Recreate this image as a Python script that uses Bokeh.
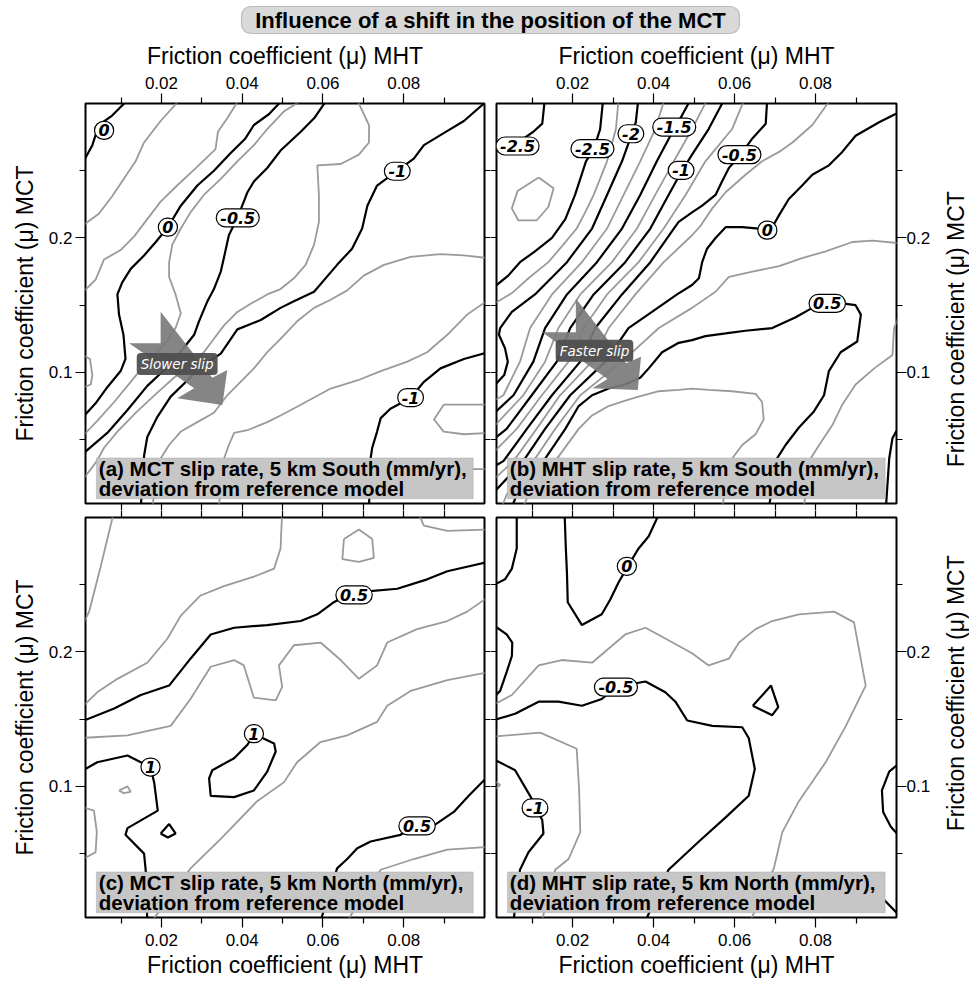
from bokeh.plotting import figure
from bokeh.models import Range1d, LinearAxis, FixedTicker, Label, BoxAnnotation
from bokeh.layouts import column, row
from bokeh.embed import file_html
from bokeh.resources import INLINE
from bokeh.core.properties import value

# ---------------- texts ----------------
TITLE = "Influence of a shift in the position of the MCT"
X_LABEL = "Friction coefficient (\u03bc) MHT"
Y_LABEL = "Friction coefficient (\u03bc) MCT"
A_TAG = ["(a) MCT slip rate, 5 km South (mm/yr),", "deviation from reference model"]
B_TAG = ["(b) MHT slip rate, 5 km South (mm/yr),", "deviation from reference model"]
C_TAG = ["(c) MCT slip rate, 5 km North (mm/yr),", "deviation from reference model"]
D_TAG = ["(d) MHT slip rate, 5 km North (mm/yr),", "deviation from reference model"]

# ---------------- axes ----------------
X_RANGE = (0.0012, 0.1)
Y_RANGE = (0.0025, 0.3)
X_MAJOR = [0.02, 0.04, 0.06, 0.08]
X_MINOR = [0.01, 0.03, 0.05, 0.07, 0.09]
Y_MAJOR = [0.1, 0.2]
Y_MINOR = [0.05, 0.15, 0.25]

# ---------------- contour lines: (level, x, y) ----------------
A_LINES = [
    (0, [0.0124, 0.0078, 0.0045, 0.0029, 0.0], [0.305, 0.291, 0.284, 0.269, 0.253]),
    (0.25, [0.0, 0.0045, 0.0078, 0.0107, 0.0136, 0.0157, 0.0198, 0.0252],
     [0.208, 0.218, 0.231, 0.244, 0.257, 0.271, 0.287, 0.305]),
    (0.25, [0.0, 0.0037, 0.0058, 0.0099, 0.0132, 0.0165, 0.0198, 0.0239, 0.0289, 0.0334, 0.034, 0.0363, 0.0396],
     [0.158, 0.169, 0.184, 0.191, 0.201, 0.214, 0.227, 0.239, 0.253, 0.266, 0.279, 0.289, 0.305]),
    (0, [0.0507, 0.0466, 0.0429, 0.0408, 0.0371, 0.033, 0.0289, 0.0248, 0.0216, 0.0186, 0.0157, 0.0124, 0.0103,
         0.0091, 0.0095, 0.0106, 0.0111, 0.0099, 0.0066, 0.0037, 0.0],
     [0.305, 0.292, 0.284, 0.274, 0.263, 0.25, 0.239, 0.224, 0.208, 0.197, 0.187, 0.177, 0.167,
      0.158, 0.143, 0.128, 0.11, 0.101, 0.089, 0.077, 0.065]),
    (-0.25, [0.0561, 0.0503, 0.0462, 0.0429, 0.0388, 0.0347, 0.0305, 0.0272, 0.0248, 0.0227, 0.0219, 0.0219,
             0.0235, 0.0248, 0.0235, 0.0206, 0.0165, 0.0124, 0.0083, 0.0041, 0.0],
     [0.305, 0.294, 0.281, 0.269, 0.257, 0.244, 0.232, 0.219, 0.207, 0.195, 0.182, 0.171,
      0.158, 0.144, 0.133, 0.12, 0.108, 0.093, 0.078, 0.064, 0.051]),
    (-0.5, [0.0615, 0.0578, 0.0545, 0.0495, 0.0462, 0.0429, 0.0413, 0.0404, 0.0388, 0.0367, 0.0356, 0.0347,
            0.033, 0.0314, 0.0293, 0.0281, 0.0252, 0.0215, 0.0165, 0.0116, 0.0066, 0.0],
     [0.305, 0.289, 0.279, 0.265, 0.252, 0.242, 0.234, 0.227, 0.215, 0.202, 0.187, 0.175,
      0.162, 0.153, 0.138, 0.128, 0.117, 0.104, 0.09, 0.072, 0.055, 0.038]),
    (-0.75, [0.0681, 0.0714, 0.0714, 0.0689, 0.0644, 0.0586, 0.059, 0.059, 0.0578, 0.0557, 0.0528, 0.0495,
             0.0462, 0.0421, 0.0388, 0.0355, 0.033, 0.0305, 0.0272, 0.0231, 0.019, 0.014, 0.0091, 0.0058,
             0.004, 0.0],
     [0.305, 0.284, 0.271, 0.262, 0.255, 0.254, 0.232, 0.212, 0.195, 0.18, 0.17, 0.162,
      0.158, 0.151, 0.145, 0.135, 0.125, 0.115, 0.106, 0.096, 0.085, 0.071, 0.056, 0.044,
      0.034, 0.018]),
    (-1, [0.101, 0.0949, 0.0899, 0.085, 0.0825, 0.0784, 0.0734, 0.071, 0.0697, 0.0672, 0.0635, 0.0578,
          0.0528, 0.0495, 0.0446, 0.0388, 0.0347, 0.0297, 0.0264, 0.0223, 0.019, 0.0165, 0.0157, 0.0149],
     [0.303, 0.287, 0.278, 0.269, 0.259, 0.25, 0.239, 0.224, 0.207, 0.192, 0.18, 0.16,
      0.153, 0.148, 0.139, 0.132, 0.114, 0.104, 0.094, 0.082, 0.067, 0.052, 0.038, 0.0]),
    (-1.25, [0.101, 0.0949, 0.0891, 0.0817, 0.0751, 0.0701, 0.066, 0.0619, 0.0578, 0.0536, 0.0495, 0.0462,
             0.0429, 0.0396, 0.0363, 0.033, 0.0289, 0.0248, 0.0219, 0.0198, 0.0177],
     [0.185, 0.187, 0.188, 0.186, 0.18, 0.172, 0.161, 0.154, 0.148, 0.138, 0.125, 0.115,
      0.103, 0.093, 0.083, 0.07, 0.063, 0.056, 0.046, 0.036, 0.0]),
    (-1.25, [0.101, 0.0957, 0.0908, 0.0858, 0.0809, 0.0743, 0.0685, 0.0619, 0.0545, 0.0495, 0.0462, 0.0413,
             0.038, 0.0367, 0.0355, 0.0342],
     [0.154, 0.143, 0.128, 0.115, 0.108, 0.101, 0.094, 0.088, 0.076, 0.068, 0.063, 0.057,
      0.055, 0.046, 0.036, 0.0]),
    (-1, [0.101, 0.0949, 0.0891, 0.085, 0.0817, 0.0767, 0.0743, 0.0734, 0.0722, 0.0718, 0.0714],
     [0.115, 0.11, 0.103, 0.093, 0.081, 0.073, 0.066, 0.056, 0.044, 0.036, 0.0]),
    (-1.25, [0.101, 0.0899, 0.0875, 0.0899, 0.0949, 0.101], [0.076, 0.076, 0.065, 0.056, 0.054, 0.055]),
    (-1.25, [0.101, 0.0969, 0.0924], [0.028, 0.028, 0.024]),
    (0.25, [0.0, 0.0023, 0.0029, 0.0025, 0.0], [0.114, 0.11, 0.098, 0.091, 0.088]),
]

B_LINES = [
    (-2.5, [0.0132, 0.0125, 0.0103, 0.0074, 0.0045, 0.0], [0.305, 0.285, 0.279, 0.273, 0.269, 0.266]),
    (-2.75, [0.0116, 0.0153, 0.014, 0.0111, 0.0066, 0.005, 0.0064, 0.0116],
     [0.245, 0.237, 0.223, 0.213, 0.213, 0.222, 0.235, 0.245]),
    (-2.5, [0.0276, 0.0268, 0.0252, 0.0233, 0.0206, 0.0182, 0.0149, 0.0107, 0.007, 0.0041, 0.0],
     [0.305, 0.281, 0.266, 0.257, 0.232, 0.214, 0.2, 0.19, 0.182, 0.172, 0.162]),
    (-2.25, [0.0314, 0.0307, 0.0285, 0.0252, 0.0231, 0.021, 0.0177, 0.014, 0.0091, 0.005, 0.0],
     [0.305, 0.281, 0.257, 0.232, 0.219, 0.207, 0.195, 0.182, 0.17, 0.159, 0.15]),
    (-2, [0.0363, 0.0356, 0.0347, 0.0322, 0.0285, 0.0248, 0.0186, 0.0107, 0.005, 0.0021, 0.0018, 0.0033,
          0.004, 0.0031, 0.0],
     [0.305, 0.286, 0.278, 0.257, 0.232, 0.207, 0.182, 0.158, 0.145, 0.133, 0.128, 0.118,
      0.108, 0.098, 0.088]),
    (-1.75, [0.0429, 0.0404, 0.0367, 0.0326, 0.0285, 0.0223, 0.0149, 0.0095, 0.007, 0.0029, 0.0],
     [0.305, 0.281, 0.257, 0.232, 0.207, 0.182, 0.158, 0.133, 0.108, 0.083, 0.078]),
    (-1.5, [0.0495, 0.047, 0.0454, 0.0408, 0.0367, 0.0322, 0.026, 0.0186, 0.0132, 0.0103, 0.0054, 0.0],
     [0.305, 0.291, 0.283, 0.257, 0.232, 0.207, 0.182, 0.158, 0.133, 0.108, 0.083, 0.068]),
    (-1.25, [0.0536, 0.0495, 0.045, 0.0404, 0.0359, 0.0297, 0.0219, 0.0165, 0.0132, 0.0078, 0.0],
     [0.305, 0.281, 0.257, 0.232, 0.207, 0.182, 0.158, 0.133, 0.108, 0.083, 0.058]),
    (-1, [0.0578, 0.0536, 0.0495, 0.047, 0.0437, 0.0392, 0.033, 0.0252, 0.0194, 0.0161, 0.0099, 0.0037, 0.0],
     [0.305, 0.281, 0.262, 0.25, 0.232, 0.207, 0.182, 0.158, 0.133, 0.108, 0.083, 0.058, 0.049]),
    (-0.75, [0.0627, 0.0594, 0.0528, 0.0479, 0.0425, 0.0363, 0.0285, 0.0227, 0.019, 0.0124, 0.0062, 0.0],
     [0.305, 0.281, 0.257, 0.232, 0.207, 0.182, 0.158, 0.133, 0.108, 0.083, 0.058, 0.039]),
    (-0.5, [0.0681, 0.0677, 0.0644, 0.0615, 0.0586, 0.0569, 0.0553, 0.052, 0.0495, 0.0462, 0.045, 0.0392,
            0.0322, 0.0256, 0.0219, 0.0149, 0.0087, 0.0029, 0.0],
     [0.305, 0.285, 0.274, 0.262, 0.252, 0.242, 0.232, 0.224, 0.219, 0.212, 0.207, 0.182,
      0.158, 0.133, 0.108, 0.083, 0.058, 0.034, 0.029]),
    (-0.25, [0.0842, 0.0792, 0.0743, 0.071, 0.0668, 0.0627, 0.0578, 0.0545, 0.0516, 0.0495, 0.0425, 0.0355,
             0.0289, 0.0248, 0.0169, 0.0111, 0.0054, 0.0],
     [0.305, 0.284, 0.271, 0.264, 0.257, 0.247, 0.234, 0.222, 0.209, 0.202, 0.182, 0.158,
      0.133, 0.108, 0.083, 0.058, 0.034, 0.019]),
    (0, [0.101, 0.0957, 0.0899, 0.0866, 0.0833, 0.0792, 0.0767, 0.0734, 0.071, 0.0693, 0.0683, 0.066, 0.0619,
         0.0578, 0.0553, 0.0532, 0.052, 0.0512, 0.0495, 0.0458, 0.0396, 0.0338, 0.0281, 0.0194, 0.0132,
         0.0078, 0.0],
     [0.294, 0.286, 0.276, 0.264, 0.254, 0.247, 0.239, 0.229, 0.217, 0.208, 0.206, 0.207, 0.208,
      0.208, 0.2, 0.192, 0.182, 0.17, 0.165, 0.158, 0.145, 0.133, 0.108, 0.083, 0.058,
      0.034, 0.009]),
    (0.25, [0.101, 0.0941, 0.0891, 0.0825, 0.0767, 0.071, 0.0644, 0.0586, 0.0553, 0.0495, 0.0413, 0.0322,
            0.0219, 0.0157, 0.0103, 0.0037, 0.0025],
     [0.196, 0.198, 0.197, 0.19, 0.185, 0.179, 0.175, 0.171, 0.16, 0.148, 0.133, 0.108,
      0.083, 0.058, 0.034, 0.009, 0.0]),
    (0.5, [0.0685, 0.0705, 0.0726, 0.0759, 0.0796, 0.0821, 0.0833, 0.0862, 0.0903, 0.0912, 0.0899, 0.0875,
           0.0832, 0.0792, 0.0751, 0.0693, 0.0627, 0.0578, 0.0528, 0.0495, 0.0462, 0.0421, 0.0388, 0.0367,
           0.033, 0.0289, 0.0248, 0.0215, 0.0182, 0.0128, 0.0062, 0.005],
     [0.0, 0.036, 0.046, 0.059, 0.071, 0.083, 0.101, 0.115, 0.123, 0.143, 0.15, 0.151,
      0.151, 0.148, 0.141, 0.133, 0.131, 0.129, 0.127, 0.124, 0.122, 0.115, 0.103, 0.096,
      0.091, 0.088, 0.083, 0.075, 0.058, 0.034, 0.009, 0.0]),
    (0.75, [0.0078, 0.0091, 0.0157, 0.0215, 0.0248, 0.0289, 0.033, 0.0363, 0.0413, 0.0462, 0.0495, 0.0536,
            0.0594, 0.0652, 0.0668, 0.0672, 0.0652, 0.0619, 0.0594, 0.0569],
     [0.0, 0.009, 0.034, 0.058, 0.068, 0.075, 0.079, 0.082, 0.086, 0.087, 0.088, 0.087,
      0.086, 0.084, 0.078, 0.065, 0.054, 0.046, 0.036, 0.0]),
    (0.75, [0.101, 0.0994, 0.099, 0.0945, 0.0899, 0.0866, 0.0842, 0.0809, 0.0788, 0.0771],
     [0.145, 0.133, 0.113, 0.103, 0.091, 0.076, 0.061, 0.046, 0.036, 0.0]),
    (1, [0.101, 0.099, 0.0982, 0.0974], [0.062, 0.051, 0.036, 0.0]),
]

C_LINES = [
    (0.25, [0.0083, 0.0062, 0.005, 0.0033, 0.0021, 0.0], [0.305, 0.279, 0.264, 0.244, 0.23, 0.217]),
    (0.25, [0.0, 0.0041, 0.0091, 0.0165, 0.0215, 0.0248, 0.0297, 0.0355, 0.0429, 0.0479, 0.0495, 0.0499],
     [0.158, 0.17, 0.18, 0.192, 0.21, 0.227, 0.242, 0.249, 0.256, 0.262, 0.277, 0.305]),
    (0.25, [0.0652, 0.0689, 0.0722, 0.0726, 0.0689, 0.0648, 0.0652],
     [0.284, 0.291, 0.284, 0.27, 0.267, 0.269, 0.284]),
    (0.25, [0.0833, 0.085, 0.0908, 0.101], [0.305, 0.294, 0.29, 0.291]),
    (0.5, [0.0, 0.0083, 0.0149, 0.0219, 0.0272, 0.0322, 0.038, 0.0462, 0.0545, 0.0586, 0.0627, 0.0652,
           0.0677, 0.071, 0.0784, 0.0858, 0.0908, 0.101],
     [0.148, 0.158, 0.168, 0.175, 0.195, 0.213, 0.218, 0.22, 0.223, 0.228, 0.237, 0.241,
      0.242, 0.245, 0.247, 0.254, 0.26, 0.267]),
    (0.75, [0.0, 0.0116, 0.0223, 0.0272, 0.0322, 0.038, 0.0404, 0.0429, 0.0483, 0.0499, 0.0491, 0.0528,
            0.0594, 0.0644, 0.0689, 0.0734, 0.0759, 0.0833, 0.0908, 0.0957, 0.101],
     [0.136, 0.138, 0.145, 0.165, 0.189, 0.194, 0.19, 0.166, 0.164, 0.174, 0.19, 0.205,
      0.207, 0.194, 0.18, 0.19, 0.207, 0.217, 0.223, 0.23, 0.241]),
    (0.75, [0.0177, 0.0272, 0.0347, 0.0437, 0.0503, 0.0536, 0.0594, 0.066, 0.0734, 0.0759, 0.0817, 0.0908,
            0.101],
     [0.0, 0.039, 0.061, 0.089, 0.103, 0.118, 0.133, 0.138, 0.148, 0.16, 0.171, 0.179, 0.185]),
    (1, [0.0429, 0.0479, 0.0483, 0.0462, 0.0429, 0.038, 0.0322, 0.0318, 0.0326, 0.038, 0.0413, 0.0429],
     [0.139, 0.132, 0.126, 0.111, 0.097, 0.092, 0.093, 0.106, 0.112, 0.121, 0.131, 0.139]),
    (1, [0.0, 0.0041, 0.0116, 0.0149, 0.0173, 0.0182, 0.0191, 0.0116, 0.0111, 0.0157, 0.0161, 0.0165],
     [0.111, 0.118, 0.123, 0.118, 0.114, 0.103, 0.082, 0.069, 0.064, 0.05, 0.038, 0.0]),
    (1, [0.0198, 0.0219, 0.0235, 0.0216, 0.0198], [0.065, 0.072, 0.065, 0.062, 0.065]),
    (1.25, [0.0095, 0.0116, 0.0124, 0.0107, 0.0095], [0.097, 0.1, 0.096, 0.095, 0.097]),
    (0.75, [0.0, 0.0033, 0.004, 0.0037, 0.0], [0.085, 0.082, 0.066, 0.051, 0.045]),
    (0.5, [0.0594, 0.0635, 0.066, 0.0685, 0.0718, 0.0792, 0.0833, 0.0875, 0.0924, 0.0961, 0.101],
     [0.0, 0.039, 0.046, 0.054, 0.059, 0.064, 0.071, 0.071, 0.081, 0.093, 0.108]),
    (0.25, [0.066, 0.0743, 0.0825, 0.0908, 0.101], [0.0, 0.038, 0.046, 0.053, 0.055]),
]

D_LINES = [
    (0, [0.0062, 0.0062, 0.005, 0.0033, 0.0], [0.305, 0.277, 0.262, 0.254, 0.249]),
    (0, [0.018, 0.0183, 0.0186, 0.0188, 0.0223, 0.0272, 0.0293, 0.0314, 0.0337, 0.0363, 0.0388, 0.0417],
     [0.305, 0.279, 0.259, 0.237, 0.22, 0.228, 0.239, 0.252, 0.264, 0.277, 0.286, 0.305]),
    (0, [0.0, 0.0037, 0.0051, 0.005, 0.0037, 0.0021, 0.0], [0.221, 0.213, 0.207, 0.197, 0.185, 0.171, 0.165]),
    (-0.25, [0.0, 0.005, 0.0116, 0.0173, 0.0248, 0.033, 0.038, 0.0429, 0.0495, 0.0536, 0.0586, 0.0611,
             0.0652, 0.0693, 0.0759, 0.0846, 0.0895, 0.0924, 0.0875, 0.0825, 0.0759, 0.0718, 0.0697, 0.0639],
     [0.16, 0.168, 0.19, 0.194, 0.192, 0.213, 0.218, 0.21, 0.199, 0.19, 0.195, 0.207,
      0.217, 0.223, 0.228, 0.23, 0.222, 0.175, 0.145, 0.118, 0.089, 0.066, 0.039, 0.0]),
    (-0.5, [0.0, 0.0058, 0.0116, 0.0165, 0.0223, 0.0272, 0.0309, 0.038, 0.0429, 0.0454, 0.0483, 0.0545,
            0.0619, 0.0635, 0.065, 0.0635, 0.0578, 0.0512, 0.0437, 0.038],
     [0.149, 0.154, 0.163, 0.163, 0.16, 0.165, 0.174, 0.178, 0.17, 0.163, 0.149, 0.145,
      0.144, 0.136, 0.113, 0.093, 0.077, 0.059, 0.038, 0.0]),
    (-0.5, [0.0645, 0.069, 0.0708, 0.0693, 0.0645], [0.16, 0.175, 0.159, 0.153, 0.16]),
    (-0.75, [0.0, 0.012, 0.021, 0.0216, 0.0219, 0.019, 0.0157, 0.0124],
     [0.137, 0.14, 0.128, 0.098, 0.066, 0.046, 0.038, 0.0]),
    (-1, [0.0, 0.0058, 0.0095, 0.011, 0.0125, 0.0128, 0.0091, 0.007, 0.0054],
     [0.121, 0.112, 0.093, 0.084, 0.075, 0.065, 0.051, 0.038, 0.0]),
    (0, [0.101, 0.0982, 0.0964, 0.0967, 0.0986, 0.101], [0.118, 0.111, 0.097, 0.081, 0.07, 0.062]),
    (0, [0.0965, 0.101], [0.017, 0.003]),
    (-0.75, [0.0, 0.0021, 0.0], [0.106, 0.101, 0.096]),
]

# ---------------- contour labels ----------------
A_LAB_X = [0.0058, 0.0216, 0.0389, 0.0784, 0.0817]
A_LAB_Y = [0.28, 0.208, 0.215, 0.2496, 0.0813]
A_LAB_T = ["0", "0", "-0.5", "-1", "-1"]

B_LAB_X = [0.0064, 0.0249, 0.0344, 0.0451, 0.0468, 0.0612, 0.0681, 0.0829]
B_LAB_Y = [0.2684, 0.2664, 0.2775, 0.2825, 0.2503, 0.262, 0.2058, 0.1513]
B_LAB_T = ["-2.5", "-2.5", "-2", "-1.5", "-1", "-0.5", "0", "0.5"]

C_LAB_X = [0.0677, 0.0429, 0.0173, 0.0833]
C_LAB_Y = [0.2424, 0.1392, 0.1144, 0.0706]
C_LAB_T = ["0.5", "1", "1", "0.5"]

D_LAB_X = [0.0334, 0.0307, 0.0107]
D_LAB_Y = [0.2637, 0.1738, 0.084]
D_LAB_T = ["0", "-0.5", "-1"]

# ---------------- arrows ----------------
ARROW_A_X = [0.0198, 0.0326, 0.0363, 0.0351, 0.0239, 0.0281, 0.012, 0.0198]
ARROW_A_Y = [0.1451, 0.0961, 0.1018, 0.0758, 0.0808, 0.0882, 0.1216, 0.1216]
SLIP_A = (0.0239, 0.1062, "Slower slip")

ARROW_B_X = [0.0208, 0.0332, 0.0369, 0.0361, 0.0249, 0.0286, 0.0125, 0.0208]
ARROW_B_Y = [0.155, 0.1068, 0.1117, 0.087, 0.0882, 0.0951, 0.1298, 0.1298]
SLIP_B = (0.0254, 0.1161, "Faster slip")

GRAY = "#9a9a9a"
FONT = "Liberation Sans"
STANDOFF = {"above": (5, 5), "below": (6, 3), "left": (3, 8), "right": (0, 0)}


def is_major(level):
    return abs(level * 2 - round(level * 2)) < 1e-9


def add_axis(p, side, labeled):
    is_x = side in ("above", "below")
    major = X_MAJOR if is_x else Y_MAJOR
    minor = X_MINOR if is_x else Y_MINOR
    if labeled:
        ax = LinearAxis(ticker=FixedTicker(ticks=major, minor_ticks=minor))
    else:
        ax = LinearAxis(ticker=FixedTicker(ticks=[], minor_ticks=sorted(major + minor)))
    ax.axis_line_color = None
    ax.major_tick_in = 0
    ax.minor_tick_in = 0
    ax.major_tick_line_color = "black"
    ax.minor_tick_line_color = "black"
    ax.major_tick_line_width = 1.2
    ax.minor_tick_line_width = 1.2
    if labeled:
        ax.major_tick_out = 10
        ax.minor_tick_out = 6
        ls, als = STANDOFF[side]
        ax.major_label_standoff = ls
        ax.major_label_text_font = FONT
        ax.major_label_text_font_size = "17px"
        ax.major_label_text_color = "black"
        if side != "right":
            ax.axis_label = X_LABEL if is_x else Y_LABEL
            ax.axis_label_standoff = als
            ax.axis_label_text_font = FONT
            ax.axis_label_text_font_size = "23px"
            ax.axis_label_text_font_style = "normal"
            ax.axis_label_text_color = "black"
    else:
        n = 7 if is_x else 6
        ax.major_tick_out = n
        ax.minor_tick_out = n
        ax.major_label_standoff = 0
    p.add_layout(ax, side)


def make_panel(width, height, borders, labeled_sides, lines, lab_x, lab_y, lab_t, tag,
               arrow=None, slip=None):
    bl, br, bt, bb = borders
    p = figure(width=width, height=height, output_backend="svg", toolbar_location=None,
               x_range=Range1d(*X_RANGE), y_range=Range1d(*Y_RANGE),
               x_axis_location=None, y_axis_location=None,
               min_border_left=bl, min_border_right=br, min_border_top=bt, min_border_bottom=bb)
    p.grid.visible = False
    p.outline_line_color = "black"
    p.outline_line_width = 2
    p.background_fill_color = "white"
    p.border_fill_color = "white"
    for side in ("above", "below", "left", "right"):
        add_axis(p, side, side in labeled_sides)

    minor = [l for l in lines if not is_major(l[0])]
    major = [l for l in lines if is_major(l[0])]
    p.multi_line([l[1] for l in minor], [l[2] for l in minor], line_color=GRAY, line_width=1.8)
    p.multi_line([l[1] for l in major], [l[2] for l in major], line_color="black", line_width=2.2)

    if arrow is not None:
        p.patch(arrow[0], arrow[1], fill_color="#7b7b7b", fill_alpha=0.92, line_color=None)
    if slip is not None:
        p.text(x=[slip[0]], y=[slip[1]], text=[slip[2]], text_align="center", text_baseline="middle",
               text_color="white", text_font=value("DejaVu Sans"), text_font_style="italic",
               text_font_size="13.5px", background_fill_color="#4f4f4f", background_fill_alpha=0.95,
               border_line_color=None, padding=(4, 3), border_radius=4)

    p.text(x=lab_x, y=lab_y, text=lab_t, text_align="center", text_baseline="middle",
           text_color="black", text_font=value("DejaVu Sans"), text_font_style="bold italic",
           text_font_size="16px", background_fill_color="white", border_line_color="black",
           border_line_width=1.2, padding=(4, 3), border_radius=10)

    p.add_layout(BoxAnnotation(left=0.0039, right=0.0972, bottom=0.006, top=0.0364,
                               fill_color="#c6c6c6", fill_alpha=1.0, line_color="#8c8c8c",
                               line_width=1))
    p.add_layout(Label(x=0.0045, y=0.0283, text=tag[0], text_baseline="middle",
                       text_font=FONT, text_font_style="bold", text_font_size="20.5px",
                       text_color="black"))
    p.add_layout(Label(x=0.0045, y=0.0134, text=tag[1], text_baseline="middle",
                       text_font=FONT, text_font_style="bold", text_font_size="20.5px",
                       text_color="black"))
    return p


def make_strip(height, center_from_bottom):
    s = figure(width=32, height=height, output_backend="svg", toolbar_location=None,
               x_range=Range1d(0, 32), y_range=Range1d(0, height),
               x_axis_location=None, y_axis_location=None, min_border=0)
    s.grid.visible = False
    s.outline_line_color = None
    s.add_layout(Label(x=18, y=center_from_bottom, text=Y_LABEL, angle=90, angle_units="deg",
                       text_align="center", text_baseline="middle", text_font=FONT,
                       text_font_size="23px", text_color="black"))
    return s


# title strip
t = figure(width=969, height=35, output_backend="svg", toolbar_location=None,
           x_range=Range1d(0, 969), y_range=Range1d(0, 35),
           x_axis_location=None, y_axis_location=None, min_border=0)
t.grid.visible = False
t.outline_line_color = None
t.add_layout(BoxAnnotation(left=241, right=739, bottom=2, top=29, fill_color="#d9d9d9", fill_alpha=1.0,
                           line_color="#4d4d4d", line_width=1.2, border_radius=9))
t.add_layout(Label(x=490, y=15.5, text=TITLE, text_align="center", text_baseline="middle",
                   text_font=FONT, text_font_style="bold", text_font_size="22px", text_color="black"))

fa = make_panel(490, 475, (85, 6, 68, 7), ("above", "left"), A_LINES, A_LAB_X, A_LAB_Y, A_LAB_T, A_TAG,
                arrow=(ARROW_A_X, ARROW_A_Y), slip=SLIP_A)
fb = make_panel(447, 475, (6, 41, 68, 7), ("above", "right"), B_LINES, B_LAB_X, B_LAB_Y, B_LAB_T, B_TAG,
                arrow=(ARROW_B_X, ARROW_B_Y), slip=SLIP_B)
fc = make_panel(490, 471, (85, 6, 7, 64), ("below", "left"), C_LINES, C_LAB_X, C_LAB_Y, C_LAB_T, C_TAG)
fd = make_panel(447, 471, (6, 41, 7, 64), ("below", "right"), D_LINES, D_LAB_X, D_LAB_Y, D_LAB_T, D_TAG)

s_top = make_strip(475, 207)
s_bot = make_strip(471, 264)

layout = column(t, row(fa, fb, s_top, spacing=0), row(fc, fd, s_bot, spacing=0), spacing=0)
open("out.html", "w").write(file_html(layout, INLINE, title="Influence of a shift in the position of the MCT"))
